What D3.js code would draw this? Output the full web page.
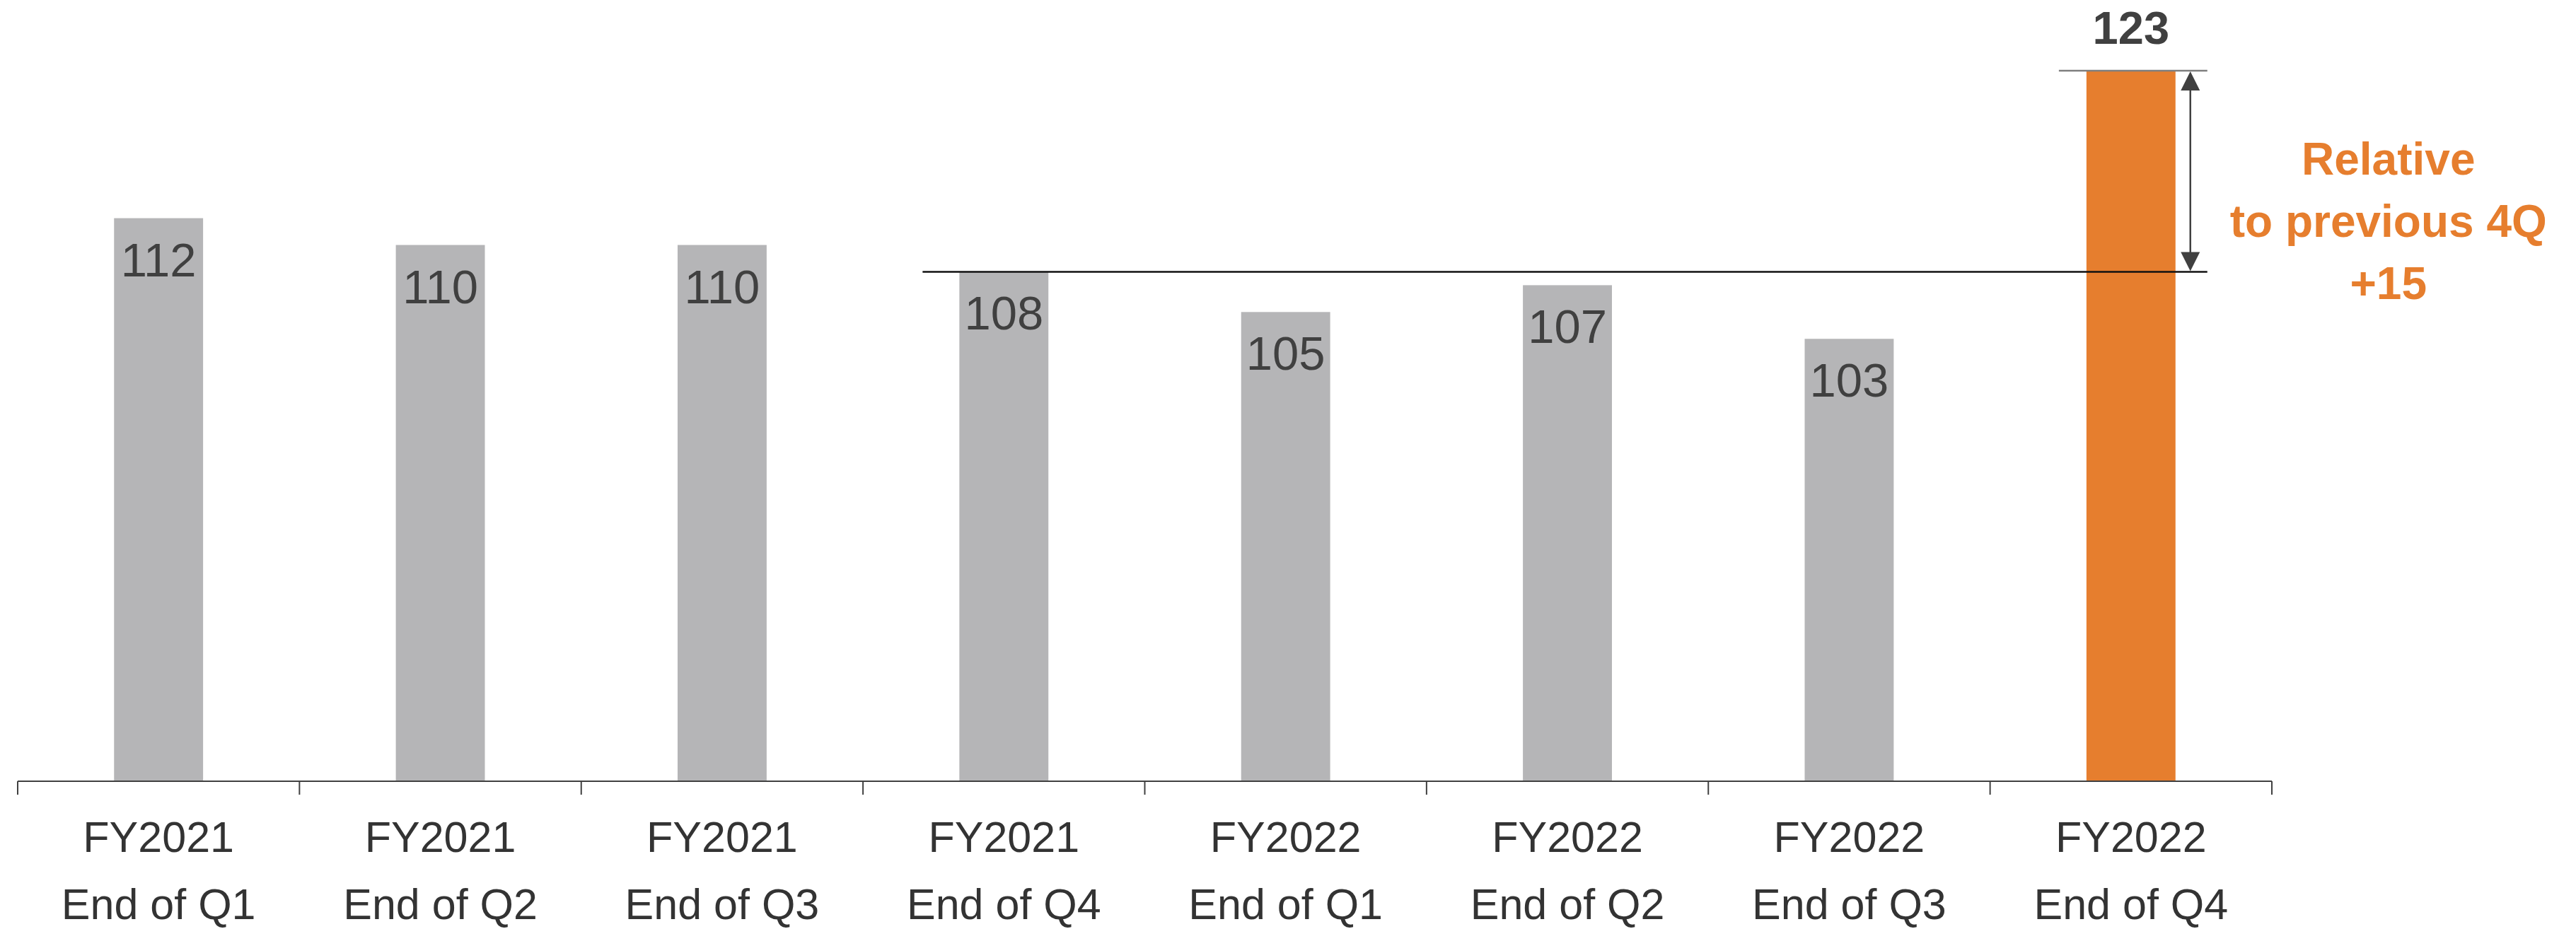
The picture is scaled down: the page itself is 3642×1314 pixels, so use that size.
<!DOCTYPE html>
<html>
<head>
<meta charset="utf-8">
<script src="https://cdn.jsdelivr.net/npm/d3@7"></script>
<style>
  html, body { margin: 0; padding: 0; background: #ffffff; }
  svg { display: block; }
  text { font-family: "Liberation Sans", Arial, sans-serif; }
</style>
</head>
<body>
<svg id="chart" width="3642" height="1314"></svg>
<script>
// ---- data ----
const yearLabels = ["FY2021", "FY2021", "FY2021", "FY2021", "FY2022", "FY2022", "FY2022", "FY2022"];
const quarterLabels = ["End of Q1", "End of Q2", "End of Q3", "End of Q4", "End of Q1", "End of Q2", "End of Q3", "End of Q4"];
const values = [112, 110, 110, 108, 105, 107, 103, 123];
const highlightIndex = 7;
const referenceIndex = 3;
const annotationLines = ["Relative", "to previous 4Q", "+15"];

// ---- layout ----
const W = 3642, H = 1314;
const margin = { left: 25, right: 430, top: 100, bottom: 209 };
const svg = d3.select("#chart");

const cats = values.map((d, i) => i);
const x = d3.scaleBand()
  .domain(cats)
  .range([margin.left, W - margin.right])
  .paddingInner(0.684)
  .paddingOuter(0.342);

const y = d3.scaleLinear()
  .domain([70, 123])
  .range([H - margin.bottom, margin.top]);

const GRAY = "#b5b5b7", ORANGE = "#e67e2e", DARK = "#404040", AXIS_TXT = "#333333";

// bars
svg.append("g").selectAll("rect")
  .data(values)
  .join("rect")
  .attr("x", (d, i) => x(i))
  .attr("y", d => y(d))
  .attr("width", x.bandwidth())
  .attr("height", d => y(70) - y(d))
  .attr("fill", (d, i) => i === highlightIndex ? ORANGE : GRAY);

// value labels
svg.append("g").selectAll("text")
  .data(values)
  .join("text")
  .attr("x", (d, i) => x(i) + x.bandwidth() / 2)
  .attr("y", (d, i) => i === highlightIndex ? y(d) - 38 : y(d) + 82)
  .attr("text-anchor", "middle")
  .attr("font-size", (d, i) => i === highlightIndex ? 65 : 67)
  .attr("font-weight", (d, i) => i === highlightIndex ? "bold" : "normal")
  .attr("fill", DARK)
  .text(d => d);

// x axis (line + boundary ticks)
const step = x.step();
const r0 = x.range()[0], r1 = x.range()[1];
const axisG = svg.append("g");
axisG.append("line")
  .attr("x1", r0).attr("x2", r1)
  .attr("y1", y(70)).attr("y2", y(70))
  .attr("stroke", DARK).attr("stroke-width", 2);
axisG.selectAll("line.tick")
  .data(d3.range(values.length + 1))
  .join("line")
  .attr("class", "tick")
  .attr("x1", i => r0 + i * step).attr("x2", i => r0 + i * step)
  .attr("y1", y(70)).attr("y2", y(70) + 19)
  .attr("stroke", DARK).attr("stroke-width", 2);

// category labels
const lab = axisG.selectAll("text.cat")
  .data(cats)
  .join("text")
  .attr("class", "cat")
  .attr("text-anchor", "middle")
  .attr("font-size", 61)
  .attr("fill", AXIS_TXT);
lab.append("tspan")
  .attr("x", i => x(i) + x.bandwidth() / 2)
  .attr("y", y(70) + 100)
  .text(i => yearLabels[i]);
lab.append("tspan")
  .attr("x", i => x(i) + x.bandwidth() / 2)
  .attr("y", y(70) + 195)
  .text(i => quarterLabels[i]);

// reference line at previous Q4 value
const hx = x(highlightIndex), hw = x.bandwidth();
const refY = y(values[referenceIndex]);
const topY = y(values[highlightIndex]);
svg.append("line")
  .attr("x1", x(referenceIndex) - 52).attr("x2", hx + hw + 45)
  .attr("y1", refY).attr("y2", refY)
  .attr("stroke", "#111111").attr("stroke-width", 2.5);

// top line at highlight value
svg.append("line")
  .attr("x1", hx - 39).attr("x2", hx + hw + 45)
  .attr("y1", topY).attr("y2", topY)
  .attr("stroke", "#7f7f7f").attr("stroke-width", 2.5);

// double-headed arrow
const ax = hx + hw + 21;
const headH = 28, headW = 27;
svg.append("line")
  .attr("x1", ax).attr("x2", ax)
  .attr("y1", topY + headH - 2).attr("y2", refY - headH + 2)
  .attr("stroke", DARK).attr("stroke-width", 2.5);
svg.append("path")
  .attr("d", `M${ax},${topY + 1} L${ax - headW / 2},${topY + headH} L${ax + headW / 2},${topY + headH} Z`)
  .attr("fill", DARK);
svg.append("path")
  .attr("d", `M${ax},${refY - 1} L${ax - headW / 2},${refY - headH} L${ax + headW / 2},${refY - headH} Z`)
  .attr("fill", DARK);

// annotation text
svg.append("g").selectAll("text")
  .data(annotationLines)
  .join("text")
  .attr("x", hx + hw + 301)
  .attr("y", (d, i) => 247 + i * 88)
  .attr("text-anchor", "middle")
  .attr("font-size", 64)
  .attr("font-weight", "bold")
  .attr("fill", ORANGE)
  .text(d => d);
</script>
</body>
</html>
